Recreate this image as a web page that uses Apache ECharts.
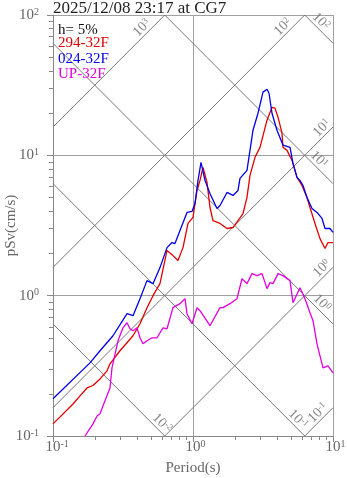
<!DOCTYPE html>
<html><head><meta charset="utf-8">
<script src="https://cdn.jsdelivr.net/npm/echarts@6/dist/echarts.min.js"></script>
<style>html,body{margin:0;padding:0;background:#fff}#c{width:347px;height:478px}</style>
</head><body><div id="c"></div>
<script>
// ---- data (period in s, pseudo velocity response in cm/s) ----
const title = '2025/12/08 23:17 at CG7';
const damping = 'h= 5%';
const seriesNames = ['294-32F', '024-32F', 'UP-32F'];
const seriesColors = ['#e00000', '#0000e6', '#e000e0'];

const period294 = [0.1, 0.139, 0.1559, 0.1749, 0.1931, 0.2167, 0.2429, 0.2553, 0.301, 0.3728, 0.4182, 0.4693, 0.5179, 0.5809, 0.6521, 0.7197, 0.7813, 0.8483, 0.921, 1.0, 1.068, 1.122, 1.179, 1.259, 1.322, 1.389, 1.559, 1.75, 1.931, 2.096, 2.276, 2.43, 2.554, 2.773, 3.01, 3.378, 3.667, 3.853, 4.047, 4.322, 4.394, 4.693, 5.095, 5.533, 6.005, 6.52, 6.85, 7.438, 8.075, 8.77, 9.21, 10];
const psv294 = [0.122, 0.169, 0.193, 0.220, 0.229, 0.255, 0.291, 0.327, 0.405, 0.518, 0.631, 0.821, 1.0, 1.218, 2.10, 1.93, 1.78, 2.20, 3.27, 3.61, 5.62, 6.63, 8.21, 6.41, 4.25, 3.43, 3.27, 3.01, 3.06, 3.43, 3.85, 5.01, 7.20, 9.68, 11.4, 17.8, 22.0, 21.7, 18.7, 14.4, 11.4, 10.85, 9.21, 6.96, 6.10, 5.01, 4.25, 3.27, 2.55, 2.17, 2.39, 2.39];

const period024 = [0.1, 0.1837, 0.2167, 0.2683, 0.3378, 0.3728, 0.4182, 0.4693, 0.5179, 0.5809, 0.6521, 0.7079, 0.7434, 0.8075, 0.9061, 0.9837, 1.0334, 1.086, 1.141, 1.218, 1.322, 1.484, 1.559, 1.75, 1.931, 2.096, 2.166, 2.43, 2.683, 2.912, 3.162, 3.378, 3.491, 3.667, 3.981, 4.394, 4.932, 5.179, 5.533, 5.81, 6.105, 6.52, 7.079, 7.687, 8.347, 8.77, 9.52, 10];
const psv024 = [0.184, 0.332, 0.405, 0.518, 0.744, 0.720, 0.952, 1.28, 1.218, 1.585, 2.20, 2.39, 2.35, 2.91, 3.92, 3.98, 4.54, 6.63, 8.91, 6.63, 5.35, 4.18, 4.39, 5.44, 5.18, 5.62, 6.85, 7.81, 15.1, 19.95, 28.2, 29.6, 27.7, 19.95, 15.1, 11.8, 11.4, 8.77, 6.96, 6.63, 6.10, 5.01, 4.18, 3.92, 3.55, 3.01, 3.01, 2.82];

const periodUP = [0.1693, 0.1931, 0.2062, 0.2167, 0.2351, 0.2553, 0.2638, 0.2912, 0.3162, 0.3378, 0.3548, 0.3728, 0.3981, 0.4182, 0.4394, 0.4693, 0.5094, 0.5533, 0.6105, 0.6521, 0.7197, 0.8075, 0.8768, 0.9061, 0.9837, 1.068, 1.122, 1.322, 1.559, 1.638, 1.837, 2.062, 2.239, 2.43, 2.639, 2.865, 3.111, 3.378, 3.548, 3.728, 4.047, 4.394, 4.932, 5.179, 5.81, 6.31, 6.85, 7.197, 7.687, 8.483, 9.21, 10];
const psvUP = [0.1, 0.122, 0.139, 0.144, 0.178, 0.220, 0.306, 0.477, 0.590, 0.641, 0.581, 0.562, 0.590, 0.501, 0.454, 0.477, 0.501, 0.501, 0.590, 0.581, 0.821, 0.877, 0.952, 0.744, 0.631, 0.821, 0.781, 0.611, 0.821, 0.821, 0.877, 0.952, 1.32, 1.218, 1.436, 1.39, 1.436, 1.122, 1.238, 1.218, 1.436, 1.39, 1.28, 0.891, 1.14, 0.952, 0.756, 0.663, 0.454, 0.306, 0.316, 0.282];

// tripartite guide levels
const accelLevels = [0.1, 1, 10, 100, 1000];      // cm/s^2
const accelLabelPeriod = [8.48, 9.06, 9.06, 4.77, 0.469];
const dispLevels = [0.01, 0.1, 1, 10, 100];       // cm
const dispLabelPeriod = [0.553, 5.18, 7.69, 7.31, 7.56];

const minorX = [0.2,0.3,0.4,0.5,0.6,0.7,0.8,0.9,2,3,4,5,6,7,8,9];
const minorY = [0.2,0.3,0.4,0.5,0.6,0.7,0.8,0.9,2,3,4,5,6,7,8,9,20,30,40,50,60,70,80,90];

// ---- chart ----
const FONT = '"Liberation Serif", "DejaVu Serif", serif';
const TXT = '#666';
const TMIN = 0.1, TMAX = 10, VMIN = 0.1, VMAX = 100;
const TWO_PI = 2 * Math.PI;

function zip(a, b) { return a.map((v, i) => [v, b[i]]); }
function expOf(v) { return Math.round(Math.log10(v)); }

const guideSeries = [];
const labelData = [];
accelLevels.forEach((a, i) => {
  const c = a / TWO_PI;               // Sv = c * T
  const t1 = Math.max(TMIN, VMIN / c), t2 = Math.min(TMAX, VMAX / c);
  if (t1 < t2) guideSeries.push({type: 'line', data: [[t1, c * t1], [t2, c * t2]]});
  const tl = accelLabelPeriod[i];
  labelData.push({value: [tl, c * tl], label: {rotate: 45, formatter: '{b|10}{s|' + expOf(a) + '}'}});
});
dispLevels.forEach((d, i) => {
  const k = d * TWO_PI;               // Sv = k / T
  const t1 = Math.max(TMIN, k / VMAX), t2 = Math.min(TMAX, k / VMIN);
  if (t1 < t2) guideSeries.push({type: 'line', data: [[t1, k / t1], [t2, k / t2]]});
  const tl = dispLabelPeriod[i];
  labelData.push({value: [tl, k / tl], label: {rotate: -45, formatter: '{b|10}{s|' + expOf(d) + '}'}});
});
guideSeries.forEach(s => Object.assign(s, {symbol: 'none', silent: true, z: 1,
  lineStyle: {color: '#777', width: 1}, animation: false}));

const richBase = {
  b: {fontSize: 15, fontFamily: FONT, color: TXT, lineHeight: 16},
  s: {fontSize: 10, fontFamily: FONT, color: TXT, verticalAlign: 'top', lineHeight: 10},
  h: {fontSize: 10, fontFamily: FONT, color: 'rgba(0,0,0,0)', verticalAlign: 'top', lineHeight: 10}
};

const dataSeries = [
  [period294, psv294], [period024, psv024], [periodUP, psvUP]
].map((p, i) => ({
  name: seriesNames[i], type: 'line', data: zip(p[0], p[1]), symbol: 'none', z: 3,
  lineStyle: {color: seriesColors[i], width: 1.3}, itemStyle: {color: seriesColors[i]}, animation: false
}));

const chart = echarts.init(document.getElementById('c'), null, {renderer: 'canvas'});
chart.setOption({
  backgroundColor: '#fff',
  animation: false,
  title: {text: title, left: 53, top: 0, padding: 0,
    textStyle: {fontFamily: FONT, fontSize: 17, fontWeight: 'normal', color: '#222'}},
  legend: {
    data: seriesNames.map((n, i) => ({name: n, textStyle: {color: seriesColors[i]}})),
    orient: 'vertical', left: 53, top: 36, padding: 0, icon: 'none', itemWidth: 0, itemHeight: 14, itemGap: 0.5,
    selectedMode: false,
    textStyle: {fontFamily: FONT, fontSize: 15, lineHeight: 14}
  },
  graphic: [{type: 'text', left: 58, top: 23, z: 10,
    style: {text: damping, font: '15px ' + FONT, fill: '#111'}}],
  grid: {left: 53, right: 14, top: 15, bottom: 42, containLabel: false, outerBoundsMode: 'none'},
  xAxis: [{
    type: 'log', logBase: 10, min: TMIN, max: TMAX,
    name: 'Period(s)', nameLocation: 'middle', nameGap: 25, nameMoveOverlap: false,
    nameTextStyle: {fontFamily: FONT, fontSize: 15, color: TXT},
    axisLine: {lineStyle: {color: '#888', width: 1}},
    axisTick: {show: true, length: 6, lineStyle: {color: '#888'}},
    axisLabel: {margin: 3, formatter: v => { const e = expOf(v); return '{h|' + e + '}{b|10}{s|' + e + '}'; }, rich: richBase, showMaxLabel: true, showMinLabel: true},
    splitLine: {show: true, lineStyle: {color: '#a0a0a0', width: 1}}
  }, {
    type: 'log', logBase: 10, min: TMIN, max: TMAX, position: 'bottom', gridIndex: 0,
    axisLine: {show: false}, axisLabel: {show: false}, splitLine: {show: false},
    axisTick: {show: true, length: 4, customValues: minorX, lineStyle: {color: '#888'}}
  }],
  yAxis: [{
    type: 'log', logBase: 10, min: VMIN, max: VMAX,
    name: 'pSv(cm/s)', nameLocation: 'middle', nameGap: 34, nameRotate: 90, nameMoveOverlap: false,
    nameTextStyle: {fontFamily: FONT, fontSize: 15, color: TXT},
    axisLine: {lineStyle: {color: '#888', width: 1}},
    axisTick: {show: true, length: 6, lineStyle: {color: '#888'}},
    axisLabel: {margin: 14, formatter: v => '{b|10}{s|' + expOf(v) + '}', rich: richBase},
    splitLine: {show: true, lineStyle: {color: '#a0a0a0', width: 1}}
  }, {
    type: 'log', logBase: 10, min: VMIN, max: VMAX, position: 'left', gridIndex: 0,
    axisLine: {show: false}, axisLabel: {show: false}, splitLine: {show: false},
    axisTick: {show: true, length: 4, customValues: minorY, lineStyle: {color: '#888'}}
  }],
  series: guideSeries.concat([{
    type: 'scatter', data: labelData, symbolSize: 1, silent: true, z: 2,
    itemStyle: {color: 'rgba(0,0,0,0)'},
    label: {show: true, position: 'inside', align: 'center', verticalAlign: 'bottom',
      rich: {b: {fontSize: 14, fontFamily: FONT, color: TXT}, s: {fontSize: 9, fontFamily: FONT, color: TXT, verticalAlign: 'top'}}},
    animation: false
  }]).concat(dataSeries)
});
</script>
</body></html>
